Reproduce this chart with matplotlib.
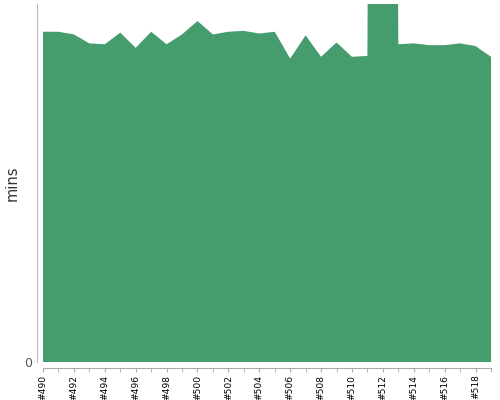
import matplotlib
matplotlib.use('Agg')
import matplotlib.pyplot as plt
import numpy as np

builds = list(range(490, 520))
minutes = [36.9, 36.9, 36.6, 35.6, 35.5, 36.8, 35.1, 36.9, 35.5, 36.6,
           38.1, 36.6, 36.9, 37.0, 36.7, 36.9, 33.9, 36.5, 34.1, 35.7,
           34.1, 34.2, 400.0, 35.5, 35.6, 35.4, 35.4, 35.6, 35.3, 34.1]
tick_labels = ['#%d' % b for b in builds[::2]]

fig = plt.figure(figsize=(5, 4), dpi=100)
ax = fig.add_axes([0.086, 0.095, 0.896, 0.895])

ax.fill_between(builds, minutes, 0, color='#459d6d', linewidth=0)
ax.set_xlim(490, 519)
ax.set_ylim(0, 40)

ax.set_xticks(builds, minor=True)
ax.set_xticks(builds[::2], tick_labels)
ax.tick_params(axis='x', which='both', length=3, color='#aaaaaa', pad=2,
               labelrotation=90, labelsize=6.6)
ax.set_yticks([0])
ax.tick_params(axis='y', length=0, labelsize=9, labelcolor='#555555', pad=4)
ax.set_ylabel('mins', fontsize=10.5, color='#333333')
ax.yaxis.set_label_coords(-0.052, 0.5)

for s in ['top', 'right']:
    ax.spines[s].set_visible(False)
ax.spines['left'].set_position(('outward', 4))
ax.spines['bottom'].set_position(('outward', 4))
ax.spines['left'].set_color('#bbbbbb')
ax.spines['bottom'].set_color('#aaaaaa')

fig.savefig('out.png')
